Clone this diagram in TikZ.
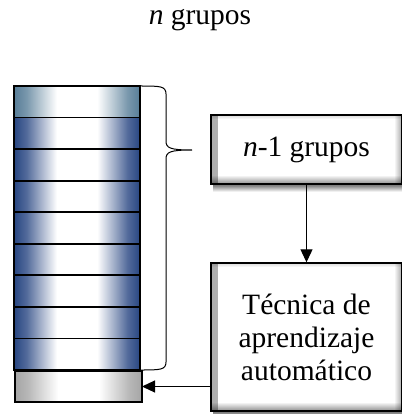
\documentclass[tikz,border=0pt]{standalone}
\usepackage{fontspec}
\setmainfont{Liberation Serif}
\usetikzlibrary{arrows.meta,fadings,calc}
\definecolor{navyc}{RGB}{40,70,130}
\definecolor{steelc}{RGB}{88,126,152}
\definecolor{grayc}{RGB}{165,165,165}
\pgfdeclarehorizontalshading{bluerow}{100bp}{color(0bp)=(navyc); color(25bp)=(navyc); color(30bp)=(navyc!80!white); color(36bp)=(navyc!40!white); color(42bp)=(white); color(58bp)=(white); color(64bp)=(navyc!40!white); color(70bp)=(navyc!80!white); color(75bp)=(navyc); color(100bp)=(navyc)}
\pgfdeclarehorizontalshading{steelrow}{100bp}{color(0bp)=(steelc); color(25bp)=(steelc); color(30bp)=(steelc!80!white); color(36bp)=(steelc!40!white); color(42bp)=(white); color(58bp)=(white); color(64bp)=(steelc!40!white); color(70bp)=(steelc!80!white); color(75bp)=(steelc); color(100bp)=(steelc)}
\pgfdeclarehorizontalshading{grayrow}{100bp}{color(0bp)=(grayc); color(25bp)=(grayc); color(30bp)=(grayc!80!white); color(36bp)=(grayc!40!white); color(42bp)=(white); color(58bp)=(white); color(64bp)=(grayc!40!white); color(70bp)=(grayc!80!white); color(75bp)=(grayc); color(100bp)=(grayc)}
\tikzset{
  rowbox/.style={rectangle, minimum width=126pt, minimum height=31.56pt, inner sep=0pt, outer sep=0pt},
  rowline/.style={draw=black, line width=1.8pt},
  bevbox/.style={rectangle, draw=black, line width=1.4pt, fill=white, inner sep=0pt, align=center,
    path picture={
      \fill[black,opacity=0.32,path fading=east] (path picture bounding box.south west) rectangle ($(path picture bounding box.north west)+(7pt,0pt)$);
      \fill[black,opacity=0.35,path fading=west] ($(path picture bounding box.south east)+(-8pt,0pt)$) rectangle (path picture bounding box.north east);
      \fill[black,opacity=0.45,path fading=north] (path picture bounding box.south west) rectangle ($(path picture bounding box.south east)+(0pt,9pt)$);
      \fill[black,opacity=0.15,path fading=south] ($(path picture bounding box.north west)+(0pt,-4pt)$) rectangle (path picture bounding box.north east);
    }},
  shadowfill/.style={black, opacity=0.5, path fading=south},
  arr/.style={line width=1.1pt, -{Triangle[length=13pt,width=12pt]}},
  bracestyle/.style={line width=1pt, black}
}
\begin{document}
\begin{tikzpicture}[x=1pt,y=-1pt, every node/.style={font=\fontsize{29.5}{33}\selectfont}]
\useasboundingbox (0,0) rectangle (401,414);
\node[anchor=base, inner sep=0pt] (title) at (200,25) {\textit{n} grupos};
\node[rowbox, shading=steelrow] (r1) at (77,101.78) {};
\foreach \i in {2,...,9} {
  \node[rowbox, shading=bluerow] (r\i) at (77,{86+31.56*(\i-0.5)}) {};
}
\node[rowbox, shading=grayrow, minimum width=127pt, minimum height=31pt] (g) at (78.5,386.5) {};
\foreach \i in {1,...,9} {
  \draw[rowline] (r\i.north west) rectangle (r\i.south east);
}
\draw[rowline] (g.north west) rectangle (g.south east);
% brace
\draw[bracestyle] (140,86) .. controls (160,86) and (166,86) .. (166,94) -- (166,141)
  .. controls (166,148) and (170,150) .. (192,150)
  .. controls (170,150) and (166,152) .. (166,159) -- (166,362)
  .. controls (166,370) and (160,370) .. (140,370);
% boxes
\node[bevbox, minimum width=191pt, minimum height=69pt] (b1) at (306.5,149.5) {\textit{n}-1 grupos};
\node[bevbox, minimum width=191pt, minimum height=148pt] (b2) at (306.5,337) {Técnica de\\aprendizaje\\automático};
\fill[shadowfill] ([xshift=3pt,yshift=-0.7pt]b1.south west) rectangle ([yshift=-7pt]b1.south east);
\fill[shadowfill] ([xshift=3pt,yshift=-0.7pt]b2.south west) rectangle ([yshift=-7pt]b2.south east);
% connectors
\draw[arr] (b1.south) -- (b2.north);
\draw[arr] (b2.west |- g.east) -- (g.east);
\end{tikzpicture}
\end{document}
